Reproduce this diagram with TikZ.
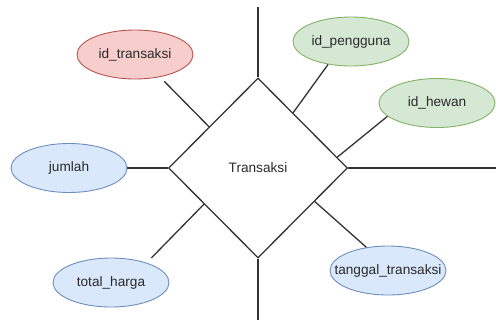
\documentclass[tikz,border=0pt]{standalone}
\usepackage{fontspec}
\setmainfont{Liberation Sans}
\usetikzlibrary{shapes.geometric,calc}
\definecolor{bluefill}{HTML}{DAE8FC}
\definecolor{bluedraw}{HTML}{6C8EBF}
\definecolor{greenfill}{HTML}{D5E8D4}
\definecolor{greendraw}{HTML}{82B366}
\definecolor{redfill}{HTML}{F8CECC}
\definecolor{reddraw}{HTML}{B85450}
\definecolor{textgray}{HTML}{2A2A2A}
\definecolor{linegray}{HTML}{333333}
\begin{document}
\begin{tikzpicture}[x=1bp,y=-1bp,
  attr/.style={ellipse, line width=0.9bp, minimum width=116bp, minimum height=49bp,
    inner sep=0pt, font=\fontsize{13.7}{16}\selectfont, text=textgray},
  bluea/.style={attr, fill=bluefill, draw=bluedraw},
  greena/.style={attr, fill=greenfill, draw=greendraw},
  reda/.style={attr, fill=redfill, draw=reddraw},
  rel/.style={diamond, draw=linegray, line width=1.3bp, minimum width=179bp,
    minimum height=180bp, inner sep=0pt, font=\fontsize{13.7}{16}\selectfont, text=textgray},
  link/.style={draw=linegray, line width=1.3bp}
]
\useasboundingbox (0,0) rectangle (496,320);

\node[rel] (d) at (258,168) {Transaksi};
\node[reda] (tr) at (135,54.5) {\makebox[0pt]{id\_transaksi}};
\node[greena] (pg) at (351,41.5) {\makebox[0pt]{id\_pengguna}};
\node[greena] (hw) at (437,103) {\makebox[0pt]{id\_hewan}};
\node[bluea] (jm) at (69,168) {\makebox[0pt]{jumlah}};
\node[bluea] (th) at (111,282.5) {\makebox[0pt]{total\_harga}};
\node[bluea] (tg) at (388,270.5) {\makebox[0pt]{tanggal\_transaksi}};

\coordinate (topend) at (258,7);
\coordinate (botend) at (258,320);
\coordinate (rightend) at (496,168);

\draw[link] (d.north) -- (topend);
\draw[link] (d.south) -- (botend);
\draw[link] (d.east) -- (rightend);
\draw[link] (jm.east) -- (d.west);
\draw[link, shorten <=6bp] (tr.318.7) -- ($(d.west)!0.456!(d.north)$);
\draw[link] (pg.225) -- ($(d.north)!0.39!(d.east)$);
\draw[link] (hw.195) -- ($(d.north)!0.88!(d.east)$);
\draw[link, shorten <=6.6bp] (th.29.4) -- ($(d.west)!0.4!(d.south)$);
\draw[link] (tg.133.7) -- ($(d.east)!0.37!(d.south)$);
\end{tikzpicture}
\end{document}
